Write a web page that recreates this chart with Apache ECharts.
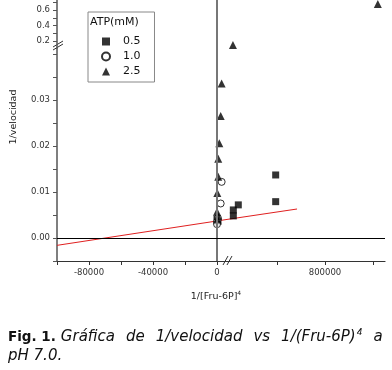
<!DOCTYPE html>
<html>
<head>
<meta charset="utf-8">
<script src="https://cdn.jsdelivr.net/npm/echarts@6/dist/echarts.min.js"></script>
<style>
  html, body { margin: 0; padding: 0; background: #fff; }
  #chart { width: 392px; height: 370px; }
</style>
</head>
<body>
<div id="chart"></div>
<script>
// datos: [1/[Fru-6P]^4, 1/velocidad]
// ATP 0.5 mM (cuadrados)
var atp05Left = [[0, 0.0041], [600, 0.0036]];
var atp05Right = [[36000, 0.0048], [36000, 0.0061], [77500, 0.0072], [389000, 0.0079], [389000, 0.0137]];
// ATP 1.0 mM (círculos)
var atp10Left = [[2300, 0.0075], [2900, 0.0122], [0, 0.0035], [600, 0.0043], [0, 0.0030]];
// ATP 2.5 mM (triángulos)
var atp25Left = [[2900, 0.0336], [2300, 0.0265], [1450, 0.0206], [800, 0.0172], [800, 0.0133],
  [200, 0.0098], [0, 0.0057], [600, 0.0048], [300, 0.0040]];
var atp25Top = [[33000, 0.149], [1240000, 0.678]];
// recta de ajuste (a ambos lados del corte del eje)
var fitLeft = [[-100000, -0.0016], [7500, 0.0041]];
var fitRight = [[0, 0.0041], [567000, 0.0063]];

// ejes
var xLeftTicks = [-100000, -80000, -60000, -40000, -20000, 0];
var xLeftLabels = [-80000, -40000, 0];
var xRightTicks = [400000, 800000, 1200000];
var xRightLabels = [800000];
var yLowTicks = [-0.005, 0, 0.005, 0.01, 0.015, 0.02, 0.025, 0.03, 0.035, 0.04];
var yLowLabels = [0, 0.01, 0.02, 0.03];
var yTopTicks = [0.2, 0.3, 0.4, 0.5, 0.6, 0.7];
var yTopLabels = [0.2, 0.4, 0.6];

// pie de figura, palabra por palabra (texto justificado)
var captionWords = ['Gráfica', 'de', '1/velocidad', 'vs', '1/(Fru-6P)'];

var FONT = 'DejaVu Sans';
var axisColor = '#333';

function xAxisCfg(grid, min, max, ticks, labels, show) {
  return {
    type: 'value', gridIndex: grid, min: min, max: max, show: show,
    splitLine: { show: false },
    axisLine: { onZero: false, lineStyle: { color: axisColor, width: 1.2 } },
    axisTick: { customValues: ticks, length: 4, lineStyle: { color: axisColor } },
    axisLabel: {
      customValues: labels, margin: 7, fontFamily: FONT, fontSize: 8.5, color: '#333',
      formatter: function (v) { return String(v); }
    }
  };
}
function yAxisCfg(grid, min, max, ticks, labels, show, digits) {
  return {
    type: 'value', gridIndex: grid, min: min, max: max, show: show,
    splitLine: { show: false },
    axisLine: { onZero: false, lineStyle: { color: '#555', width: 1.5 } },
    axisTick: { customValues: ticks, length: 4, lineStyle: { color: '#555' } },
    axisLabel: {
      customValues: labels, margin: 7, fontFamily: FONT, fontSize: 8.5, color: '#333',
      formatter: function (v) { return v.toFixed(digits); }
    }
  };
}

var zeroV = {
  silent: true, symbol: 'none', label: { show: false },
  lineStyle: { color: '#777', width: 2, type: 'solid' }, data: [{ xAxis: 0 }]
};
var zeroH = {
  silent: true, symbol: 'none', label: { show: false },
  lineStyle: { color: '#000', width: 1.2, type: 'solid' }, data: [{ yAxis: 0 }]
};
var sq = { symbol: 'rect', symbolSize: 7, itemStyle: { color: '#000' } };
var ci = { symbol: 'circle', symbolSize: 7, itemStyle: { color: '#fff', borderColor: '#000', borderWidth: 1 } };
var tr = { symbol: 'triangle', symbolSize: 8, itemStyle: { color: '#000' } };

function scatter(name, style, xi, data, extra) {
  var s = { name: name, type: 'scatter', xAxisIndex: xi, yAxisIndex: xi, data: data,
    symbol: style.symbol, symbolSize: style.symbolSize, itemStyle: style.itemStyle, z: 3 };
  if (extra) { for (var k in extra) s[k] = extra[k]; }
  return s;
}
function fitLine(xi, data) {
  return { type: 'line', xAxisIndex: xi, yAxisIndex: xi, data: data, symbol: 'none', silent: true,
    lineStyle: { color: '#e02020', width: 1 }, z: 2 };
}

// texto del pie con huecos anchos
var captionText = '{b|Fig. 1.}{s0| }' + captionWords.map(function (w) { return '{i|' + w + '}'; }).join('{g| }') +
  '{s|4}{g| }{i|a}\n{i|pH 7.0.}';

var option = {
  animation: false,
  backgroundColor: '#fff',
  grid: [
    { left: 57, top: 48, width: 172, height: 213 },   // abajo izquierda
    { left: 229, top: 48, width: 156, height: 213 },  // abajo derecha
    { left: 57, top: 0, width: 172, height: 48 },     // arriba izquierda
    { left: 229, top: 0, width: 156, height: 48 }     // arriba derecha
  ],
  xAxis: [
    xAxisCfg(0, -100000, 7500, xLeftTicks, xLeftLabels, true),
    xAxisCfg(1, 0, 1300000, xRightTicks, xRightLabels, true),
    xAxisCfg(2, -100000, 7500, xLeftTicks, xLeftLabels, false),
    xAxisCfg(3, 0, 1300000, xRightTicks, xRightLabels, false)
  ],
  yAxis: [
    yAxisCfg(0, -0.005, 0.0413, yLowTicks, yLowLabels, true, 2),
    yAxisCfg(1, -0.005, 0.0413, yLowTicks, yLowLabels, false, 2),
    yAxisCfg(2, 0.11, 0.73, yTopTicks, yTopLabels, true, 1),
    yAxisCfg(3, 0.11, 0.73, yTopTicks, yTopLabels, false, 1)
  ],
  legend: {
    left: 88, top: 12, orient: 'vertical',
    data: ['0.5', '1.0', '2.5'],
    borderColor: '#888', borderWidth: 1, borderRadius: 0,
    padding: [24, 14, 5, 13],
    itemWidth: 8, itemHeight: 8, itemGap: 4,
    textStyle: { fontFamily: FONT, fontSize: 11, color: '#111', padding: [0, 0, 0, 8] }
  },
  graphic: [
    { type: 'text', left: 90, top: 17, style: { text: 'ATP(mM)', fontFamily: FONT, fontSize: 11, fill: '#111' } },
    { type: 'text', x: 14, y: 117, rotation: Math.PI / 2, style: { text: '1/velocidad', fontFamily: FONT, fontSize: 9.5, fill: '#222', align: 'center', verticalAlign: 'middle' } },
    { type: 'text', x: 216, y: 297, style: {
      text: '1/[Fru-6P]{s|4}', fontFamily: FONT, fontSize: 9.5, fill: '#222', align: 'center', verticalAlign: 'middle',
      rich: { s: { fontSize: 6, padding: [0, 0, 8, 0], fontFamily: FONT, fill: '#222' } } } },
    // marcas de corte de eje
    { type: 'line', shape: { x1: 53, y1: 47, x2: 63, y2: 41 }, style: { stroke: '#333', lineWidth: 1 } },
    { type: 'line', shape: { x1: 53, y1: 50, x2: 63, y2: 44 }, style: { stroke: '#333', lineWidth: 1 } },
    { type: 'line', shape: { x1: 223, y1: 265, x2: 228, y2: 256 }, style: { stroke: '#333', lineWidth: 1 } },
    { type: 'line', shape: { x1: 227, y1: 265, x2: 232, y2: 256 }, style: { stroke: '#333', lineWidth: 1 } },
    // pie de figura
    { type: 'text', x: 8, y: 328, style: {
      text: captionText,
      fontFamily: FONT, fontSize: 15, fill: '#111', lineHeight: 19,
      rich: {
        b: { fontWeight: 'bold', fontFamily: FONT, fontSize: 13.5, lineHeight: 19 },
        i: { fontStyle: 'italic', fontFamily: FONT, fontSize: 15, lineHeight: 19 },
        g: { width: 11, fontSize: 15, lineHeight: 19 },
        s0: { width: 5, fontSize: 15, lineHeight: 19 },
        s: { fontStyle: 'italic', fontFamily: FONT, fontSize: 9, padding: [0, 0, 9, 1], lineHeight: 19 }
      } } }
  ],
  series: [
    scatter('0.5', sq, 0, atp05Left, { markLine: zeroV }),
    scatter('0.5', sq, 1, atp05Right, { markLine: zeroH }),
    scatter('1.0', ci, 0, atp10Left, { markLine: zeroH }),
    scatter('2.5', tr, 0, atp25Left),
    scatter('2.5', tr, 3, atp25Top),
    { type: 'scatter', xAxisIndex: 2, yAxisIndex: 2, data: [], markLine: zeroV },
    fitLine(0, fitLeft),
    fitLine(1, fitRight)
  ]
};

var chart = echarts.init(document.getElementById('chart'), null, { renderer: 'canvas' });
chart.setOption(option);
</script>
</body>
</html>
